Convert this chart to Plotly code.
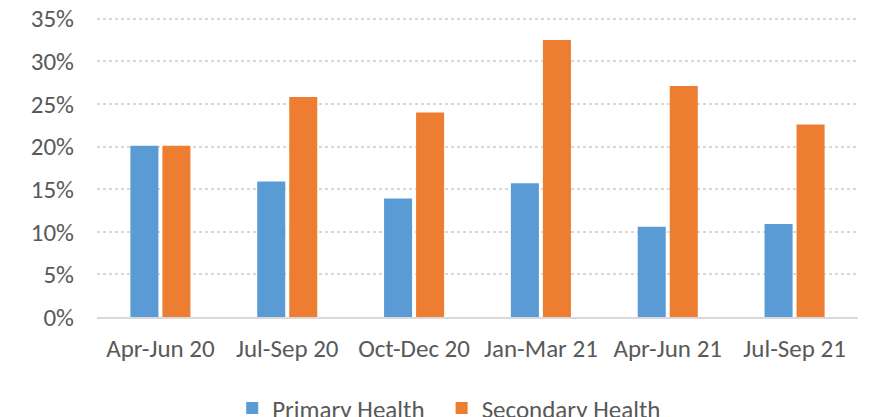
import plotly.graph_objects as go

categories = ["Apr-Jun 20", "Jul-Sep 20", "Oct-Dec 20", "Jan-Mar 21", "Apr-Jun 21", "Jul-Sep 21"]
primary = [0.201, 0.159, 0.139, 0.157, 0.106, 0.109]
secondary = [0.201, 0.258, 0.240, 0.325, 0.271, 0.226]
y_ticks = [0, 0.05, 0.10, 0.15, 0.20, 0.25, 0.30, 0.35]
y_tick_labels = ["0%", "5%", "10%", "15%", "20%", "25%", "30%", "35%"]

FONT = "Carlito, 'Liberation Sans Narrow', Lato, sans-serif"

fig = go.Figure()
fig.add_trace(go.Bar(x=categories, y=primary, name="Primary Health", legend="legend",
                     marker=dict(color="#5B9BD5", line=dict(width=0))))
fig.add_trace(go.Bar(x=categories, y=secondary, name="Secondary Health", legend="legend2",
                     marker=dict(color="#ED7D31", line=dict(width=0))))

leg_common = dict(orientation="h", xref="container", xanchor="left",
                  yref="container", y=0.04, yanchor="middle",
                  font=dict(size=25, color="#595959"), itemwidth=30,
                  bgcolor="rgba(0,0,0,0)")

fig.update_layout(
    width=869, height=417,
    margin=dict(l=89, r=19, t=9, b=108, autoexpand=False),
    paper_bgcolor="white", plot_bgcolor="white",
    barmode="group", bargap=0.495, bargroupgap=0.125,
    font=dict(family=FONT, size=25, color="#595959"),
    legend=dict(x=0.258, **leg_common),
    legend2=dict(x=0.499, **leg_common),
    showlegend=True,
)
fig.update_xaxes(showgrid=False, showline=True, linecolor="#D9D9D9", linewidth=2,
                 ticks="", ticklabelstandoff=8, automargin=False,
                 tickfont=dict(size=25, color="#595959"))
fig.update_yaxes(range=[0, 0.352], tickvals=y_ticks, ticktext=y_tick_labels,
                 showgrid=True, gridcolor="#D9D9D9", griddash="dot", gridwidth=1.5,
                 zeroline=False, showline=False, ticks="", ticklabelstandoff=22,
                 ticklabeloverflow="allow",
                 automargin=False, tickfont=dict(size=25, color="#595959"))

fig.write_html("out.html")
